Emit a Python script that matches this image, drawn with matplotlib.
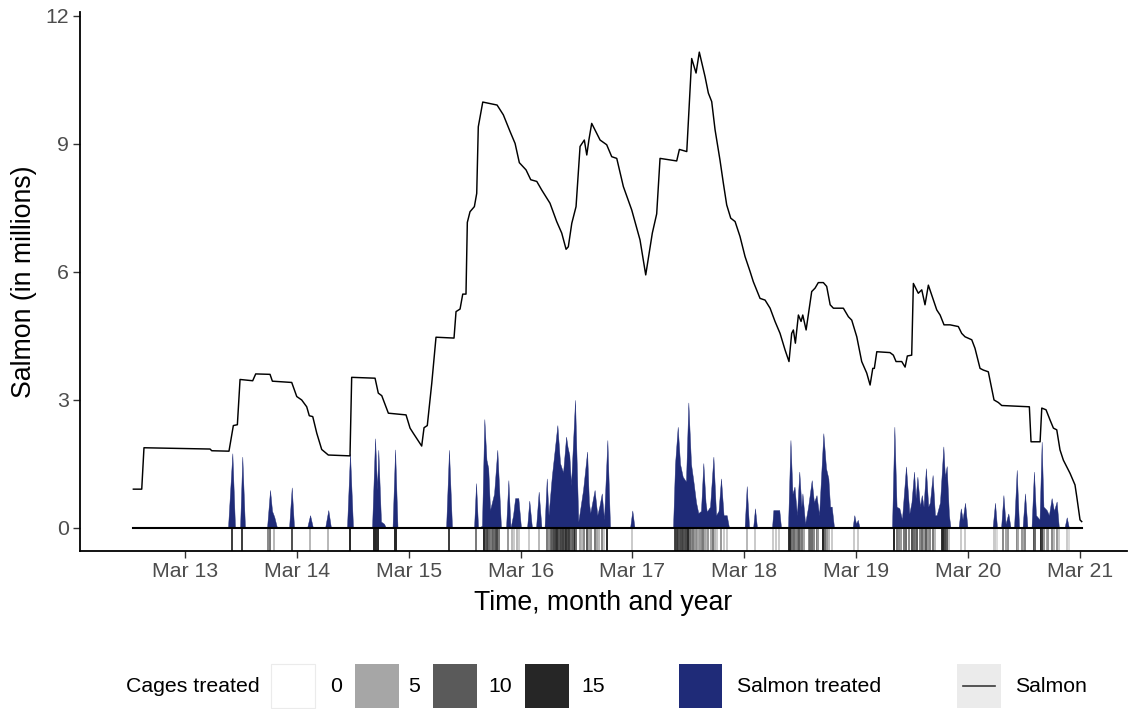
import numpy as np
import matplotlib
matplotlib.use("Agg")
import matplotlib.pyplot as plt
from matplotlib.colors import LinearSegmentedColormap, Normalize
from matplotlib.patches import Rectangle

plt.rcParams["font.family"] = ["Liberation Sans", "DejaVu Sans"]

# ---- data: time in days of March, salmon counts in millions ----
SALMON_T = [12.538, 12.613, 12.633, 13.224, 13.239, 13.393, 13.432, 13.468, 13.492, 13.605,
            13.632, 13.760, 13.781, 13.954, 13.999, 14.043, 14.088, 14.111, 14.142, 14.178,
            14.222, 14.281, 14.475, 14.490, 14.699, 14.728, 14.759, 14.818, 14.976, 15.012,
            15.041, 15.116, 15.137, 15.166, 15.206, 15.244, 15.405, 15.423, 15.459, 15.483,
            15.512, 15.524, 15.548, 15.587, 15.608, 15.622, 15.662, 15.790, 15.846, 15.906,
            15.951, 15.989, 16.049, 16.091, 16.145, 16.189, 16.234, 16.263, 16.323, 16.368,
            16.407, 16.427, 16.458, 16.496, 16.532, 16.570, 16.592, 16.612, 16.636, 16.711,
            16.770, 16.815, 16.860, 16.919, 16.994, 17.068, 17.119, 17.178, 17.217, 17.247,
            17.396, 17.420, 17.486, 17.530, 17.569, 17.598, 17.649, 17.679, 17.709, 17.739,
            17.783, 17.813, 17.843, 17.879, 17.918, 17.962, 18.007, 18.052, 18.081, 18.141,
            18.186, 18.231, 18.275, 18.320, 18.365, 18.400, 18.424, 18.439, 18.457, 18.484,
            18.508, 18.523, 18.553, 18.603, 18.633, 18.662, 18.707, 18.737, 18.768, 18.797,
            18.886, 18.931, 18.961, 19.006, 19.050, 19.095, 19.125, 19.149, 19.163, 19.185,
            19.303, 19.333, 19.357, 19.408, 19.438, 19.458, 19.497, 19.512, 19.556, 19.587,
            19.616, 19.646, 19.691, 19.721, 19.751, 19.786, 19.840, 19.914, 19.944, 19.974,
            20.034, 20.063, 20.108, 20.138, 20.182, 20.233, 20.272, 20.302, 20.549, 20.564,
            20.645, 20.660, 20.698, 20.734, 20.764, 20.794, 20.823, 20.853, 20.913, 20.957,
            20.973, 21.002, 21.017]
SALMON_V = [0.91, 0.91, 1.88, 1.85, 1.81, 1.80, 2.40, 2.42, 3.48, 3.45,
            3.61, 3.60, 3.44, 3.41, 3.08, 3.00, 2.84, 2.63, 2.61, 2.22,
            1.84, 1.71, 1.69, 3.53, 3.51, 3.16, 3.10, 2.69, 2.65, 2.34,
            2.22, 1.92, 2.35, 2.40, 3.39, 4.47, 4.45, 5.07, 5.13, 5.48,
            5.48, 7.16, 7.41, 7.53, 7.84, 9.40, 9.98, 9.91, 9.68, 9.29,
            9.01, 8.56, 8.39, 8.16, 8.12, 7.92, 7.73, 7.61, 7.18, 6.91,
            6.53, 6.59, 7.14, 7.53, 8.94, 9.09, 8.74, 9.11, 9.48, 9.09,
            8.98, 8.70, 8.66, 8.00, 7.45, 6.75, 5.93, 6.91, 7.36, 8.66,
            8.60, 8.87, 8.82, 11.00, 10.66, 11.15, 10.58, 10.19, 9.99, 9.33,
            8.62, 8.08, 7.57, 7.26, 7.18, 6.83, 6.36, 6.01, 5.77, 5.38,
            5.34, 5.15, 4.84, 4.56, 4.17, 3.90, 4.56, 4.64, 4.33, 4.99,
            4.84, 4.99, 4.64, 5.54, 5.62, 5.75, 5.75, 5.66, 5.23, 5.15,
            5.15, 4.95, 4.87, 4.48, 3.90, 3.63, 3.35, 3.74, 3.74, 4.13,
            4.11, 4.05, 3.90, 3.90, 3.77, 4.03, 4.05, 5.73, 5.50, 5.58,
            5.23, 5.69, 5.34, 5.11, 4.99, 4.76, 4.76, 4.72, 4.56, 4.48,
            4.41, 4.21, 3.74, 3.70, 3.66, 3.00, 2.94, 2.87, 2.84, 2.02,
            2.02, 2.81, 2.77, 2.53, 2.34, 2.30, 1.83, 1.59, 1.28, 1.01,
            0.73, 0.19, 0.15]

TREAT_T = [13.384, 13.423, 13.447, 13.492, 13.512, 13.536, 13.733, 13.760, 13.778, 13.798,
           13.823, 13.930, 13.954, 13.975, 14.091, 14.118, 14.144, 14.252, 14.281, 14.305,
           14.448, 14.475, 14.502, 14.672, 14.699, 14.717, 14.728, 14.752, 14.779, 14.797,
           14.855, 14.878, 14.900, 15.334, 15.360, 15.387, 15.584, 15.602, 15.620, 15.655,
           15.676, 15.695, 15.711, 15.727, 15.763, 15.792, 15.825, 15.870, 15.891, 15.910,
           15.933, 15.951, 15.980, 16.004, 16.058, 16.078, 16.102, 16.138, 16.162, 16.187,
           16.214, 16.234, 16.250, 16.279, 16.304, 16.329, 16.353, 16.380, 16.407, 16.420,
           16.436, 16.451, 16.487, 16.505, 16.516, 16.532, 16.559, 16.595, 16.611, 16.623,
           16.662, 16.686, 16.704, 16.726, 16.746, 16.776, 16.800, 16.979, 16.999, 17.019,
           17.363, 17.381, 17.405, 17.426, 17.450, 17.479, 17.500, 17.524, 17.544, 17.569,
           17.589, 17.613, 17.634, 17.654, 17.665, 17.694, 17.724, 17.748, 17.770, 17.792,
           17.815, 17.843, 17.864, 18.003, 18.022, 18.043, 18.079, 18.096, 18.114, 18.248,
           18.260, 18.284, 18.313, 18.329, 18.391, 18.413, 18.431, 18.449, 18.471, 18.492,
           18.511, 18.520, 18.544, 18.571, 18.603, 18.623, 18.646, 18.669, 18.707, 18.731,
           18.752, 18.767, 18.782, 18.803, 18.968, 18.984, 18.999, 19.015, 19.031, 19.321,
           19.342, 19.362, 19.387, 19.410, 19.446, 19.476, 19.495, 19.518, 19.532, 19.548,
           19.571, 19.587, 19.603, 19.624, 19.645, 19.660, 19.684, 19.705, 19.720, 19.750,
           19.780, 19.794, 19.810, 19.830, 19.844, 19.916, 19.936, 19.952, 19.974, 19.996,
           20.220, 20.242, 20.260, 20.296, 20.317, 20.336, 20.361, 20.381, 20.412, 20.436,
           20.457, 20.488, 20.510, 20.532, 20.568, 20.590, 20.608, 20.640, 20.659, 20.675,
           20.704, 20.724, 20.748, 20.769, 20.793, 20.813, 20.863, 20.883, 20.903]
TREAT_V = [0, 1.75, 0, 0, 1.67, 0, 0, 0.89, 0.40, 0.26,
           0, 0, 0.95, 0, 0, 0.30, 0, 0, 0.42, 0,
           0, 1.75, 0, 0, 2.10, 0.90, 1.83, 0.15, 0.10, 0,
           0, 1.84, 0, 0, 1.83, 0, 0, 1.05, 0, 0.05,
           2.55, 1.60, 1.40, 0.42, 0.80, 1.83, 0, 0, 1.12, 0,
           0.30, 0.70, 0.70, 0, 0, 0.64, 0, 0, 0.85, 0,
           0, 1.16, 0.30, 1.20, 1.80, 2.41, 1.52, 1.30, 2.14, 1.90,
           1.71, 1.00, 3.00, 1.20, 0.15, 0.42, 0.90, 1.79, 0.60, 0.35,
           0.89, 0.30, 0.50, 0.81, 0.20, 2.06, 0, 0, 0.41, 0,
           0, 1.50, 2.37, 1.50, 1.20, 1.09, 2.94, 1.50, 1.12, 0.60,
           0.35, 0.40, 1.52, 0.60, 0.38, 0.50, 1.67, 0.30, 0.40, 1.16,
           0.30, 0.30, 0, 0, 0.98, 0, 0, 0.46, 0, 0,
           0.42, 0.42, 0.42, 0, 0, 2.06, 0.80, 0.97, 0.30, 1.32,
           0.50, 0.81, 0.10, 0.50, 1.12, 0.60, 0.77, 0.30, 2.22, 1.40,
           1.16, 0.50, 0.50, 0, 0, 0.30, 0.10, 0.19, 0, 0,
           2.37, 0.50, 0.46, 0.20, 1.44, 0.34, 0.60, 1.32, 0.70, 1.20,
           0.50, 0.77, 0.50, 1.40, 0.50, 0.60, 1.24, 0.30, 0.30, 0.60,
           1.91, 1.20, 1.45, 0.30, 0, 0, 0.46, 0.20, 0.59, 0,
           0, 0.59, 0, 0, 0.77, 0.10, 0.34, 0, 0, 1.36,
           0, 0, 0.81, 0, 0, 1.32, 0.30, 0.20, 2.02, 0.50,
           0.42, 0.30, 0.70, 0.40, 0.62, 0, 0, 0.25, 0]

CAGE_T = [13.423, 13.512, 13.740, 13.760, 13.798, 13.954, 14.118, 14.281, 14.475,
          14.690, 14.699, 14.710, 14.728, 14.878, 14.885, 15.360, 15.602, 15.676,
          15.690, 15.700, 15.711, 15.720, 15.735, 15.750, 15.765, 15.780, 15.792, 15.805,
          15.891, 15.925, 15.945, 15.965, 15.985, 16.078, 16.162, 16.234,
          16.255, 16.270, 16.285, 16.300, 16.315, 16.329, 16.340, 16.353, 16.365, 16.380,
          16.395, 16.407, 16.420, 16.436, 16.450, 16.465, 16.487, 16.500,
          16.532, 16.550, 16.570, 16.595, 16.610, 16.630, 16.662, 16.680, 16.700, 16.726,
          16.745, 16.776, 16.999,
          17.380, 17.392, 17.405, 17.418, 17.430, 17.450, 17.465, 17.479, 17.500,
          17.515, 17.530, 17.544, 17.560, 17.575, 17.590, 17.605, 17.620, 17.634, 17.650,
          17.665, 17.680, 17.700, 17.724, 17.740, 17.760, 17.792, 17.815, 17.843,
          18.022, 18.096, 18.260, 18.284, 18.313,
          18.400, 18.413, 18.425, 18.440, 18.449, 18.465, 18.480, 18.492, 18.505, 18.520,
          18.535, 18.575, 18.590, 18.603, 18.620, 18.646, 18.660, 18.700, 18.707, 18.720,
          18.740, 18.760, 18.782, 18.984, 19.015,
          19.335, 19.342, 19.362, 19.387, 19.400, 19.425, 19.446, 19.476, 19.500, 19.518,
          19.532, 19.548, 19.570, 19.587, 19.603, 19.624, 19.645, 19.660, 19.684, 19.705,
          19.770, 19.780, 19.795, 19.810, 19.830, 19.936, 19.974,
          20.230, 20.242, 20.260, 20.317, 20.340, 20.361, 20.436, 20.450, 20.480, 20.500,
          20.510, 20.590, 20.600, 20.655, 20.665, 20.680, 20.704, 20.720, 20.748, 20.770,
          20.793, 20.810, 20.883, 20.900]
CAGE_N = [13, 13, 7, 8, 4, 11, 4, 4, 15,
          15, 15, 15, 15, 15, 15, 13, 8, 15,
          10, 11, 12, 9, 8, 10, 9, 11, 12, 8,
          6, 4, 3, 4, 3, 3, 4, 8,
          6, 9, 10, 12, 13, 14, 11, 10, 12, 13,
          11, 14, 12, 13, 9, 10, 15, 9,
          5, 4, 7, 10, 5, 6, 8, 5, 4, 7,
          3, 15, 3,
          12, 13, 14, 11, 12, 13, 11, 12, 15,
          9, 7, 8, 6, 7, 5, 6, 7, 8, 5,
          4, 6, 5, 8, 4, 3, 6, 3, 3,
          4, 3, 3, 3, 3,
          14, 15, 9, 8, 9, 7, 8, 10, 7, 8,
          5, 7, 9, 9, 7, 8, 6, 14, 15, 9,
          6, 4, 3, 3, 3,
          14, 15, 8, 7, 6, 8, 9, 7, 11, 9,
          8, 10, 7, 9, 6, 10, 6, 7, 8, 4,
          14, 15, 12, 10, 3, 3, 3,
          3, 3, 2, 7, 5, 6, 7, 5, 6, 5,
          7, 11, 9, 15, 13, 6, 5, 6, 7, 4,
          6, 3, 3, 2]

X_TICKS = [13, 14, 15, 16, 17, 18, 19, 20, 21]
X_TICK_LABELS = ["Mar 13", "Mar 14", "Mar 15", "Mar 16", "Mar 17",
                 "Mar 18", "Mar 19", "Mar 20", "Mar 21"]
Y_TICKS = [0, 3, 6, 9, 12]
CAGE_LEVELS = [0, 5, 10, 15]

NAVY = "#1f2b78"
TICK_GREY = "#4d4d4d"
cage_cmap = LinearSegmentedColormap.from_list(
    "cages", [(0, "#ffffff"), (1 / 3, "#a6a6a6"), (2 / 3, "#5a5a5a"), (1, "#262626")])
cage_norm = Normalize(vmin=0, vmax=15)

W, H = 1129, 709
fig = plt.figure(figsize=(W / 100, H / 100), dpi=100)
ax = fig.add_axes([80 / W, (H - 551) / H, (1127 - 80) / W, (551 - 12) / H])
ax.set_xlim(12.061, 21.422)
ax.set_ylim(-0.539, 12.09)

# treated salmon as a filled area
ax.fill_between(TREAT_T, 0, TREAT_V, color=NAVY, linewidth=0.3, edgecolor=NAVY, zorder=2)

# rug of treatment events below zero, shaded by number of cages
ybot = ax.get_ylim()[0]
ax.vlines(CAGE_T, ybot, 0, colors=cage_cmap(cage_norm(np.array(CAGE_N))),
          linewidth=1.4, zorder=2)

# zero baseline across the observed period
ax.plot([SALMON_T[0], SALMON_T[-1]], [0, 0], color="black", linewidth=1.5, zorder=3)

# total salmon
ax.plot(SALMON_T, SALMON_V, color="black", linewidth=1.05, zorder=4)

for side in ("top", "right"):
    ax.spines[side].set_visible(False)
for side in ("left", "bottom"):
    ax.spines[side].set_linewidth(1.3)
    ax.spines[side].set_color("black")

ax.set_xticks(X_TICKS)
ax.set_xticklabels(X_TICK_LABELS)
ax.set_yticks(Y_TICKS)
ax.set_yticklabels([str(v) for v in Y_TICKS])
ax.tick_params(axis="both", length=5, width=1.0, color="#333333",
               labelsize=15.3, labelcolor=TICK_GREY, pad=3)

# overlay in pixel coordinates for titles and legend
ov = fig.add_axes([0, 0, 1, 1], zorder=-1)
ov.set_xlim(0, W)
ov.set_ylim(H, 0)
ov.axis("off")

ov.text(603.5, 603, "Time, month and year", fontsize=19.2, color="black",
        ha="center", va="center")
ov.text(24, 281.5, "Salmon (in millions)", fontsize=19.2, color="black",
        ha="center", va="center", rotation=90)

# legend
ky0, kh, kw = 664, 44, 44
ov.text(126, ky0 + kh / 2, "Cages treated", fontsize=15.3, ha="left", va="center")
cage_key_x = [271, 355, 433, 525]
cage_lab_x = [330, 408, 488, 581]
for lvl, kx, lx in zip(CAGE_LEVELS, cage_key_x, cage_lab_x):
    ov.add_patch(Rectangle((kx, ky0), kw, kh, facecolor=cage_cmap(cage_norm(lvl)),
                           edgecolor="#ebebeb" if lvl == 0 else "none", linewidth=0.8))
    ov.text(lx, ky0 + kh / 2, str(lvl), fontsize=15.3, ha="left", va="center")

ov.add_patch(Rectangle((679, ky0), 43, kh, facecolor=NAVY, edgecolor="none"))
ov.text(737, ky0 + kh / 2, "Salmon treated", fontsize=15.3, ha="left", va="center")

ov.add_patch(Rectangle((957, ky0), 44, kh, facecolor="#ebebeb", edgecolor="none"))
ov.plot([963, 995], [ky0 + kh / 2, ky0 + kh / 2], color="#3a3a3a", linewidth=1.2)
ov.text(1015, ky0 + kh / 2, "Salmon", fontsize=15.3, ha="left", va="center")

fig.savefig("out.png", dpi=100, facecolor="white")
